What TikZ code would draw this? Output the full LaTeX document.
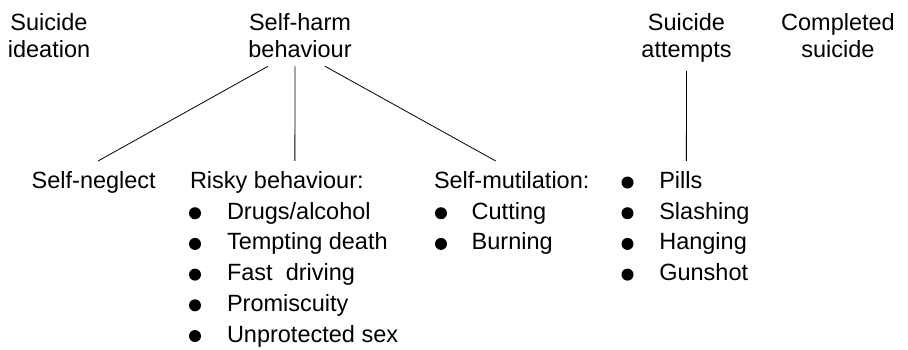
\documentclass[tikz,border=0pt]{standalone}
\usepackage{fontspec}
\setmainfont{Liberation Sans}

\tikzset{every picture/.style={line width=0.75pt}}
\tikzset{
  headtext/.style={anchor=north,align=center,inner sep=0pt,outer sep=0pt,font=\fontsize{23.5}{27}\selectfont},
  itemtext/.style={anchor=base west,inner sep=0pt,outer sep=0pt,font=\fontsize{23.5}{28}\selectfont},
  itemdot/.style={circle,fill=black,draw=none,inner sep=0pt,minimum size=12pt},
  branch/.style={line width=0.8pt}
}

\begin{document}
\begin{tikzpicture}[x=1pt,y=1pt,yscale=-1,xscale=1]
\path[use as bounding box] (0,0) rectangle (908,349);

% Text Node
\node (ideation) at (49,13) [headtext] {Suicide\\ideation};
% Text Node
\node (harm) at (300,13) [headtext] {Self-harm\\behaviour};
% Text Node
\node (attempts) at (686.5,13) [headtext] {Suicide\\attempts};
% Text Node
\node (completed) at (838,13) [headtext] {Completed\\suicide};

% Text Node
\node (neglect) at (31.7,188.5) [itemtext] {Self-neglect};
% Text Node
\node (risky) at (190,188.5) [itemtext] {Risky behaviour:};
% Text Node
\node (mutil) at (434,188.5) [itemtext] {Self-mutilation:};

% Bullet lists
\foreach \txt [count=\i] in {Drugs/alcohol,Tempting death,{Fast\ \ driving},Promiscuity,Unprotected sex}{
  \node (risky-dot-\i) at (195,182.5+30.7*\i) [itemdot] {};
  \node (risky-\i) at (227,188.5+30.7*\i) [itemtext] {\txt};
}
\foreach \txt [count=\i] in {Cutting,Burning}{
  \node (mutil-dot-\i) at (441,182.5+30.7*\i) [itemdot] {};
  \node (mutil-\i) at (471.7,188.5+30.7*\i) [itemtext] {\txt};
}
\foreach \txt [count=\i from 0] in {Pills,Slashing,Hanging,Gunshot}{
  \node (method-dot-\i) at (627.5,182.5+30.7*\i) [itemdot] {};
  \node (method-\i) at (659.3,188.5+30.7*\i) [itemtext] {\txt};
}

%Straight Lines
\draw [branch] ([xshift=-32pt,yshift=9pt]harm.south) -- ([xshift=4.3pt,yshift=-10.5pt]neglect.north) ;
%Straight Lines
\draw [branch] ([xshift=-5pt,yshift=9pt]harm.south) -- ([xshift=18pt,yshift=-10.5pt]risky.north) ;
%Straight Lines
\draw [branch] ([xshift=25pt,yshift=9pt]harm.south) -- ([xshift=-16pt,yshift=-10.5pt]mutil.north) ;
%Straight Lines
\draw [branch] ([yshift=9pt]attempts.south) -- ([xshift=5.5pt,yshift=-10.5pt]method-0.north) ;

\end{tikzpicture}
\end{document}
